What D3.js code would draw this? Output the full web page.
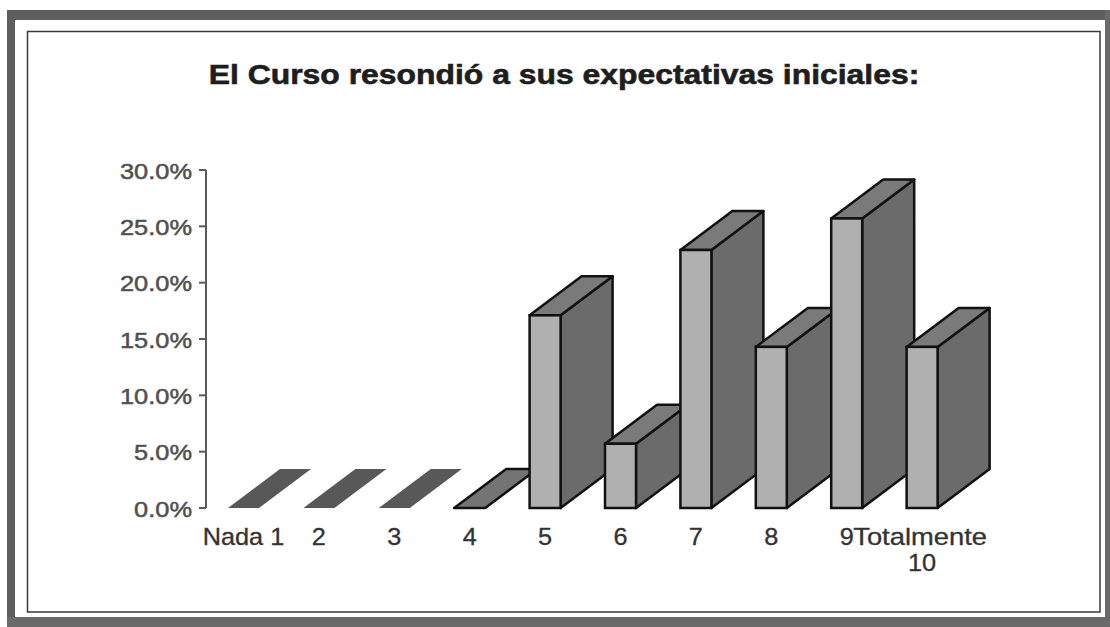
<!DOCTYPE html>
<html>
<head>
<meta charset="utf-8">
<script src="https://cdn.jsdelivr.net/npm/d3@7"></script>
<style>
  html, body { margin: 0; padding: 0; background: #fff; }
  svg { display: block; }
</style>
</head>
<body>
<div id="chart"></div>
<script>
// chart data
var title = "El Curso resondió a sus expectativas iniciales:";
var categories = ["Nada 1", "2", "3", "4", "5", "6", "7", "8", "9", "Totalmente\n10"];
var values = [0, 0, 0, 0, 0.171, 0.057, 0.229, 0.143, 0.257, 0.143];
var yTicks = [0, 0.05, 0.10, 0.15, 0.20, 0.25, 0.30];

var W = 1110, H = 627;
var depthX = 52, depthY = -39;   // 3d offset of the bars
var stretch = 1.12;              // scanned text is a bit wide

var svg = d3.select("#chart").append("svg")
    .attr("width", W)
    .attr("height", H);

// outer scanned frame
svg.append("rect").attr("x", 7).attr("y", 10).attr("width", W - 7).attr("height", 10).attr("fill", "#5e5e5e");
svg.append("rect").attr("x", 7).attr("y", 10).attr("width", 8).attr("height", H - 10).attr("fill", "#5e5e5e");
svg.append("rect").attr("x", 1105).attr("y", 10).attr("width", 5).attr("height", H - 10).attr("fill", "#6a6a6a");
svg.append("rect").attr("x", 7).attr("y", 617).attr("width", W - 7).attr("height", 10).attr("fill", "#6a6a6a");

// inner frame
svg.append("rect")
    .attr("x", 27.5).attr("y", 31.5)
    .attr("width", 1100 - 27.5).attr("height", 612 - 31.5)
    .attr("fill", "none")
    .attr("stroke", "#3a3a3a")
    .attr("stroke-width", 1.5);

// title
svg.append("text")
    .attr("transform", "translate(564,84) scale(1.16,1)")
    .attr("text-anchor", "middle")
    .style("font-family", "'Liberation Sans', Arial, sans-serif")
    .style("font-weight", "bold")
    .style("font-size", "27.5px")
    .style("fill", "#1e1e1e")
    .style("stroke", "#1e1e1e")
    .style("stroke-width", 0.6)
    .text(title);

// scales
var y = d3.scaleLinear().domain([0, 0.30]).range([508, 170]);
var x = d3.scaleBand()
    .domain(categories)
    .range([228, 228 + 9 * 75.4 + 31])
    .paddingInner(0.589)
    .paddingOuter(0);

// y axis
var axisX = 206;
svg.append("line")
    .attr("x1", axisX).attr("x2", axisX)
    .attr("y1", y(0.30)).attr("y2", y(0))
    .attr("stroke", "#5a5a5a")
    .attr("stroke-width", 2);

var ticks = svg.append("g").attr("class", "yticks");
ticks.selectAll("line")
    .data(yTicks)
    .enter().append("line")
    .attr("x1", axisX - 7).attr("x2", axisX)
    .attr("y1", function(d) { return y(d); })
    .attr("y2", function(d) { return y(d); })
    .attr("stroke", "#5a5a5a")
    .attr("stroke-width", 2);

var pct = d3.format(".1%");
ticks.selectAll("text")
    .data(yTicks)
    .enter().append("text")
    .attr("transform", function(d) { return "translate(192," + (y(d) + 8.5) + ") scale(1.13,1)"; })
    .attr("text-anchor", "end")
    .style("font-family", "'Liberation Sans', Arial, sans-serif")
    .style("font-size", "22.5px")
    .style("fill", "#505050")
    .style("stroke", "#505050")
    .style("stroke-width", 0.5)
    .text(function(d) { return pct(d); });

// bars, drawn left to right so later ones overlap
var bw = x.bandwidth();
var bars = svg.append("g").attr("class", "bars");

categories.forEach(function(c, i) {
    var v = values[i];
    var x0 = x(c), x1 = x0 + bw;
    var yb = y(0), yt = y(v);
    var g = bars.append("g");

    if (v === 0) {
	// only the flat top face remains
	g.append("path")
	    .attr("d", "M" + x0 + "," + yb + "L" + x1 + "," + yb +
		  "L" + (x1 + depthX) + "," + (yb + depthY) +
		  "L" + (x0 + depthX) + "," + (yb + depthY) + "Z")
	    .attr("fill", i < 3 ? "#585858" : "#747474")
	    .attr("stroke", i < 3 ? "none" : "#111")
	    .attr("stroke-width", 2.5)
	    .attr("stroke-linejoin", "round");
	return;
    }

    // side
    g.append("path")
	.attr("d", "M" + x1 + "," + yb + "L" + x1 + "," + yt +
	      "L" + (x1 + depthX) + "," + (yt + depthY) +
	      "L" + (x1 + depthX) + "," + (yb + depthY) + "Z")
	.attr("fill", "#6b6b6b")
	.attr("stroke", "#111")
	.attr("stroke-width", 2.5)
	.attr("stroke-linejoin", "round");

    // top
    g.append("path")
	.attr("d", "M" + x0 + "," + yt + "L" + x1 + "," + yt +
	      "L" + (x1 + depthX) + "," + (yt + depthY) +
	      "L" + (x0 + depthX) + "," + (yt + depthY) + "Z")
	.attr("fill", "#7a7a7a")
	.attr("stroke", "#111")
	.attr("stroke-width", 2.5)
	.attr("stroke-linejoin", "round");

    // front
    g.append("rect")
	.attr("x", x0).attr("y", yt)
	.attr("width", bw).attr("height", yb - yt)
	.attr("fill", "#b0b0b0")
	.attr("stroke", "#111")
	.attr("stroke-width", 2.5);
});

// category labels
var xlab = svg.append("g").attr("class", "xlabels");
categories.forEach(function(c, i) {
    var cx = x(c) + bw / 2;
    var lines = c.split("\n");
    lines.forEach(function(line, j) {
	// the long first line of the last label sits a little left, against the "9"
	var dx = (lines.length > 1 && j === 0) ? -2 : 0;
	xlab.append("text")
	    .attr("transform", "translate(" + (cx + dx) + "," + (545 + j * 26) + ") scale(" + (lines.length > 1 && j === 0 ? 1.19 : 1.1) + ",1)")
	    .attr("text-anchor", "middle")
	    .style("font-family", "'Liberation Sans', Arial, sans-serif")
	    .style("font-size", "23px")
	    .style("fill", "#333")
	    .style("stroke", "#333")
	    .style("stroke-width", 0.3)
	    .text(line);
    });
});
</script>
</body>
</html>
